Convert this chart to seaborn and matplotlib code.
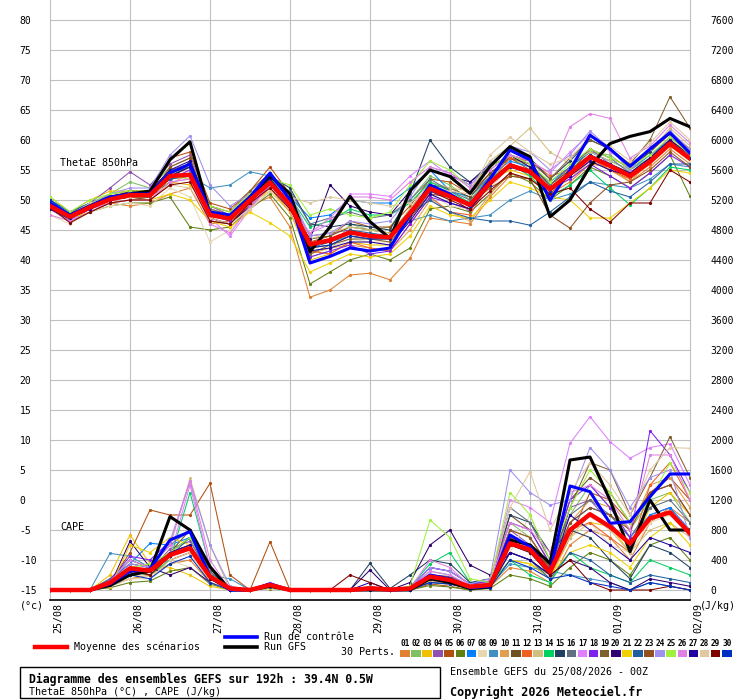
import matplotlib
matplotlib.use("Agg")
import matplotlib.pyplot as plt
import pandas as pd
import seaborn as sns
from matplotlib.transforms import ScaledTranslation
from matplotlib.lines import Line2D
from matplotlib.patches import Rectangle

# time axis: 0..192h every 6h
hours = list(range(0, 193, 6))
day_ticks = list(range(0, 193, 24))
day_labels = ["25/08", "26/08", "27/08", "28/08", "29/08", "30/08", "31/08", "01/09", "02/09"]

theta_ticks = list(range(-15, 81, 5))
cape_ticks = list(range(0, 7601, 400))

# ThetaE 850hPa (°C)
theta_mean = [49.0, 47.2, 48.8, 50.1, 50.8, 50.8, 54.0, 54.2, 47.5, 46.9, 50.0, 52.9, 49.2, 42.6, 43.3, 44.6, 44.0,
              43.8, 47.8, 51.9, 50.6, 49.2, 52.8, 55.8, 54.7, 51.8, 54.4, 57.2, 55.7, 54.0, 56.4, 59.4, 56.9]
theta_ctrl = [49.5, 47.5, 49.0, 50.5, 51.0, 51.0, 54.5, 56.0, 48.0, 47.5, 50.5, 54.5, 50.0, 39.5, 40.6, 42.0, 41.5,
              42.0, 47.5, 52.5, 51.0, 49.0, 53.5, 58.3, 56.7, 50.0, 55.0, 60.8, 58.5, 55.6, 58.5, 61.2, 57.8]
theta_gfs = [49.0, 47.5, 49.0, 50.5, 51.0, 51.5, 56.7, 59.7, 47.5, 47.0, 50.5, 54.0, 51.0, 41.4, 45.5, 50.6, 46.4,
             43.6, 51.5, 55.0, 53.9, 51.1, 55.6, 58.9, 57.2, 47.2, 50.0, 55.6, 59.4, 60.6, 61.4, 63.6, 62.2]

theta_p01 = [49.5, 47.5, 48.5, 49.5, 49.0, 49.5, 51.0, 52.0, 46.0, 46.5, 49.0, 50.5, 45.5, 33.8, 35.0, 37.5, 37.8, 36.7, 40.3, 47.0, 46.5, 46.0, 50.5, 54.0, 53.5, 51.0, 53.0, 56.0, 55.5, 53.0, 55.5, 58.5, 56.0]
theta_p02 = [49.8, 47.8, 49.5, 51.0, 53.0, 52.0, 55.5, 57.0, 48.0, 47.5, 51.0, 53.5, 49.5, 40.5, 41.5, 46.0, 45.0, 45.5, 50.0, 54.0, 52.5, 50.0, 54.0, 57.0, 55.5, 52.5, 55.0, 58.0, 57.5, 55.0, 57.0, 60.0, 57.5]
theta_p03 = [50.5, 48.0, 50.0, 51.5, 51.5, 51.0, 53.0, 52.5, 48.5, 47.5, 49.5, 51.5, 48.0, 40.0, 41.0, 43.0, 42.5, 42.5, 47.0, 52.0, 50.0, 49.5, 53.0, 55.0, 54.0, 52.0, 54.0, 56.5, 55.0, 53.5, 56.0, 59.0, 56.5]
theta_p04 = [49.5, 47.0, 49.5, 52.0, 54.7, 52.5, 56.0, 57.5, 49.0, 47.5, 51.0, 54.0, 50.0, 44.0, 44.5, 45.0, 44.0, 44.0, 48.5, 52.5, 51.0, 48.0, 53.5, 57.5, 56.0, 52.5, 55.5, 58.5, 56.0, 53.5, 57.0, 60.5, 58.0]
theta_p05 = [49.0, 47.5, 49.0, 50.5, 51.5, 51.5, 57.0, 58.0, 49.5, 48.5, 51.5, 55.5, 51.0, 43.0, 44.0, 46.5, 45.5, 45.5, 49.0, 53.5, 53.0, 51.0, 54.5, 57.0, 55.0, 51.0, 54.5, 58.5, 57.0, 55.5, 58.0, 61.0, 58.5]
theta_p06 = [48.5, 46.5, 48.0, 49.0, 49.5, 49.5, 50.5, 45.5, 45.0, 45.5, 48.5, 51.0, 47.0, 36.0, 38.0, 40.0, 41.0, 40.0, 42.0, 48.5, 49.0, 48.0, 51.0, 54.5, 53.0, 50.0, 52.5, 55.5, 54.0, 52.0, 54.5, 57.5, 50.6]
theta_p07 = [50.0, 48.0, 49.5, 50.5, 51.0, 51.5, 54.5, 55.5, 48.0, 47.0, 50.5, 53.5, 50.5, 47.0, 47.5, 50.0, 49.5, 49.5, 52.0, 55.0, 51.5, 50.5, 54.0, 56.5, 55.5, 53.0, 55.5, 58.0, 56.5, 55.0, 57.5, 60.0, 57.0]
theta_p08 = [47.5, 46.0, 48.0, 49.0, 49.5, 49.0, 52.0, 50.5, 43.0, 45.0, 48.5, 51.5, 48.5, 41.5, 42.0, 43.5, 43.0, 43.0, 47.0, 51.0, 49.0, 48.5, 52.0, 55.5, 54.5, 52.0, 54.0, 57.0, 55.5, 53.5, 56.0, 59.0, 56.5]
theta_p09 = [49.0, 47.5, 49.0, 50.0, 50.5, 51.0, 53.5, 54.0, 52.0, 52.5, 54.7, 54.0, 50.0, 42.5, 43.0, 44.0, 43.5, 44.0, 46.5, 47.5, 46.5, 47.0, 47.5, 50.0, 51.5, 50.0, 51.0, 53.0, 52.5, 52.0, 53.5, 56.0, 55.5]
theta_p10 = [50.5, 48.0, 49.0, 50.0, 50.5, 50.0, 52.5, 54.5, 47.0, 46.0, 49.0, 52.0, 48.0, 41.0, 42.0, 42.5, 42.0, 41.5, 45.0, 50.0, 48.0, 46.5, 51.0, 54.5, 53.5, 51.5, 53.5, 56.5, 55.0, 53.0, 56.5, 59.5, 57.5]
theta_p11 = [48.5, 46.5, 48.0, 49.5, 50.0, 50.5, 53.0, 56.5, 46.5, 46.0, 49.5, 53.0, 49.0, 43.5, 44.0, 45.5, 45.0, 44.5, 48.0, 52.5, 52.0, 50.5, 54.5, 57.0, 56.0, 52.5, 55.0, 57.5, 56.0, 54.5, 57.0, 60.0, 57.0]
theta_p12 = [49.5, 47.0, 48.5, 50.0, 51.0, 50.5, 53.5, 54.0, 48.5, 47.5, 50.0, 52.5, 49.0, 41.5, 41.0, 43.0, 42.0, 41.5, 46.0, 50.5, 48.0, 47.5, 53.0, 57.0, 56.5, 54.0, 55.0, 57.0, 55.0, 53.5, 56.0, 59.0, 57.0]
theta_p13 = [50.0, 47.5, 49.0, 50.5, 51.0, 51.0, 54.5, 55.0, 48.0, 47.0, 50.5, 53.0, 49.5, 43.5, 44.5, 45.5, 45.0, 44.5, 48.5, 53.0, 52.0, 51.5, 56.5, 59.0, 62.0, 58.0, 56.0, 58.0, 56.5, 55.0, 58.0, 62.0, 59.0]
theta_p14 = [49.5, 47.5, 49.0, 50.0, 50.5, 50.5, 53.5, 54.5, 47.5, 47.0, 50.5, 53.5, 50.5, 45.5, 46.5, 48.5, 47.5, 47.5, 49.5, 53.0, 51.5, 49.5, 53.5, 56.0, 54.0, 50.5, 52.5, 55.0, 52.0, 49.2, 52.0, 55.5, 55.0]
theta_p15 = [49.0, 47.0, 48.5, 50.0, 50.5, 51.0, 54.0, 55.5, 47.5, 46.5, 50.0, 54.0, 52.0, 46.0, 45.5, 46.0, 45.5, 45.0, 51.0, 60.0, 55.5, 53.0, 56.0, 58.5, 57.0, 53.5, 56.5, 60.0, 58.5, 55.5, 58.0, 61.5, 58.0]
theta_p16 = [49.5, 47.5, 49.0, 50.5, 51.0, 51.0, 55.0, 55.5, 48.5, 47.5, 50.5, 53.0, 51.5, 46.0, 47.0, 48.0, 47.0, 47.5, 50.0, 53.5, 51.5, 50.0, 53.0, 56.0, 55.0, 52.5, 55.5, 58.5, 57.0, 54.5, 57.0, 60.0, 57.5]
theta_p17 = [48.5, 46.5, 48.5, 49.5, 50.0, 50.0, 53.0, 53.5, 47.0, 44.0, 48.5, 52.5, 49.0, 44.5, 46.0, 51.0, 51.0, 50.6, 54.0, 56.5, 54.0, 52.5, 55.0, 57.5, 56.5, 54.5, 58.0, 61.0, 58.0, 56.0, 58.5, 61.5, 58.0]
theta_p18 = [49.0, 47.0, 48.5, 50.0, 51.0, 51.5, 53.5, 55.0, 47.5, 46.5, 50.0, 53.5, 49.5, 40.5, 41.5, 42.5, 41.0, 41.5, 46.0, 50.5, 49.5, 48.5, 52.5, 56.0, 55.0, 52.0, 53.5, 56.0, 54.0, 52.0, 54.5, 57.5, 55.5]
theta_p19 = [49.5, 47.5, 49.0, 51.0, 51.5, 51.5, 55.0, 56.0, 49.0, 48.0, 51.5, 54.5, 50.0, 41.0, 42.5, 43.5, 43.5, 43.0, 47.0, 51.5, 51.0, 49.5, 54.0, 57.5, 56.5, 53.5, 57.0, 60.0, 58.5, 56.0, 60.0, 67.2, 62.0]
theta_p20 = [48.5, 46.8, 48.5, 50.0, 51.5, 51.0, 54.0, 55.5, 47.0, 46.0, 49.0, 52.5, 48.5, 43.5, 52.5, 49.0, 48.0, 47.5, 51.5, 55.0, 54.0, 53.0, 55.5, 57.5, 55.5, 51.5, 54.0, 57.5, 56.0, 54.5, 57.0, 60.0, 57.5]
theta_p21 = [49.0, 47.0, 48.0, 49.5, 50.0, 50.0, 51.0, 50.0, 46.5, 45.5, 48.0, 46.2, 44.0, 38.0, 39.5, 41.0, 40.5, 41.0, 44.0, 49.0, 47.5, 47.0, 50.0, 53.0, 52.0, 50.5, 50.0, 47.0, 47.0, 49.5, 52.0, 55.0, 54.5]
theta_p22 = [50.0, 48.0, 49.5, 50.5, 51.0, 51.0, 53.5, 54.0, 47.5, 47.0, 50.0, 52.5, 49.0, 42.0, 43.0, 45.0, 44.5, 44.0, 47.5, 50.0, 48.0, 47.0, 46.5, 46.5, 45.8, 48.0, 50.5, 53.0, 51.5, 50.5, 53.0, 56.0, 56.0]
theta_p23 = [49.0, 47.0, 48.5, 50.0, 50.5, 50.5, 55.5, 57.0, 48.0, 47.0, 50.0, 53.0, 49.0, 42.0, 42.5, 44.0, 43.5, 43.5, 47.0, 51.0, 50.5, 49.5, 52.0, 54.0, 53.5, 47.5, 45.3, 49.5, 52.5, 53.0, 55.0, 58.0, 55.5]
theta_p24 = [49.5, 47.0, 49.0, 51.0, 52.0, 52.0, 57.5, 60.7, 52.5, 49.0, 51.0, 54.5, 51.0, 44.0, 44.5, 46.5, 46.0, 46.5, 50.5, 55.5, 54.5, 52.5, 56.0, 59.0, 58.0, 55.0, 57.5, 61.5, 58.5, 55.0, 58.5, 61.5, 58.5]
theta_p25 = [50.5, 48.0, 50.0, 51.0, 51.5, 51.5, 54.0, 53.5, 49.0, 48.0, 51.0, 53.5, 52.5, 47.5, 48.5, 47.5, 47.0, 48.0, 52.5, 56.5, 55.0, 52.0, 55.5, 57.5, 56.0, 53.0, 56.0, 58.5, 57.0, 55.5, 57.5, 60.5, 57.5]
theta_p26 = [47.5, 46.5, 48.0, 49.5, 50.0, 50.0, 53.0, 53.5, 46.0, 44.5, 49.0, 52.5, 48.5, 44.5, 47.0, 50.5, 50.5, 50.0, 53.0, 55.5, 54.5, 52.0, 55.0, 57.5, 56.5, 54.5, 62.2, 64.4, 63.6, 57.0, 59.0, 62.5, 59.5]
theta_p27 = [49.0, 47.0, 48.5, 50.0, 51.0, 51.5, 55.0, 56.5, 48.0, 47.5, 50.5, 53.5, 49.5, 41.5, 42.0, 43.0, 43.0, 42.5, 46.5, 51.0, 49.5, 48.5, 52.5, 55.5, 54.5, 52.0, 54.0, 56.5, 55.0, 54.0, 56.5, 59.5, 57.0]
theta_p28 = [49.5, 47.5, 49.5, 50.5, 50.5, 51.0, 52.5, 52.0, 47.0, 46.0, 48.5, 51.5, 50.5, 49.5, 50.5, 50.0, 49.5, 49.0, 49.5, 52.0, 51.5, 51.0, 57.5, 60.5, 58.0, 56.0, 57.0, 60.5, 59.0, 56.5, 59.5, 63.0, 60.0]
theta_p29 = [48.8, 46.2, 48.0, 49.5, 50.0, 50.0, 52.5, 53.0, 46.5, 46.0, 49.5, 52.0, 48.5, 42.5, 43.0, 44.5, 44.0, 44.0, 47.5, 51.5, 50.0, 48.5, 51.5, 54.5, 53.5, 51.0, 52.0, 48.5, 46.3, 49.5, 49.5, 55.0, 53.0]
theta_p30 = [50.0, 47.5, 49.0, 50.5, 51.0, 51.5, 54.5, 56.0, 47.5, 47.0, 50.0, 53.0, 49.0, 42.0, 42.5, 44.0, 43.5, 43.5, 47.5, 51.5, 50.5, 49.0, 52.5, 55.5, 54.5, 51.5, 54.5, 57.5, 56.0, 54.0, 56.5, 59.5, 57.0]

# CAPE (J/kg)
cape_mean = [0, 0, 0, 97, 289, 258, 467, 556, 178, 20, 0, 67, 0, 0, 0, 0, 22,
             5, 20, 178, 133, 44, 67, 622, 540, 244, 800, 1010, 844, 620, 956, 1035, 756]
cape_ctrl = [0, 0, 0, 80, 250, 280, 667, 778, 178, 0, 0, 80, 0, 0, 0, 0, 20,
             0, 10, 200, 150, 30, 50, 733, 578, 244, 1387, 1311, 889, 911, 1244, 1547, 1547]
cape_gfs = [0, 0, 0, 60, 200, 250, 978, 800, 311, 0, 0, 50, 0, 0, 0, 0, 0,
            0, 0, 150, 100, 20, 40, 667, 600, 356, 1733, 1773, 1200, 511, 1200, 800, 800]

cape_p01 = [0, 0, 0, 50, 150, 200, 350, 400, 100, 0, 0, 30, 0, 0, 0, 0, 0, 0, 0, 100, 80, 20, 40, 300, 250, 100, 600, 800, 700, 400, 900, 1100, 900]
cape_p02 = [0, 0, 0, 120, 400, 300, 500, 700, 150, 0, 0, 80, 0, 0, 0, 0, 10, 0, 20, 250, 200, 50, 100, 900, 700, 300, 1000, 1400, 1100, 800, 1200, 1300, 900]
cape_p03 = [0, 0, 0, 200, 733, 350, 300, 200, 50, 0, 0, 40, 0, 0, 0, 0, 0, 0, 0, 150, 100, 0, 50, 400, 350, 150, 700, 900, 850, 500, 1100, 1300, 1000]
cape_p04 = [0, 0, 0, 80, 300, 250, 550, 650, 200, 0, 0, 60, 0, 0, 0, 0, 40, 0, 30, 300, 250, 80, 120, 800, 600, 250, 1100, 1200, 900, 600, 1000, 1100, 700]
cape_p05 = [0, 0, 0, 100, 500, 1067, 1000, 1000, 1422, 200, 0, 644, 0, 0, 0, 0, 0, 0, 0, 80, 50, 0, 30, 500, 400, 200, 700, 1300, 1200, 900, 1300, 1500, 1200]
cape_p06 = [0, 0, 0, 30, 100, 120, 250, 300, 80, 0, 0, 20, 0, 0, 0, 0, 0, 0, 0, 60, 40, 0, 20, 200, 150, 50, 300, 500, 400, 200, 600, 700, 400]
cape_p07 = [0, 0, 0, 150, 350, 622, 600, 700, 250, 0, 0, 90, 0, 0, 0, 0, 20, 0, 10, 200, 150, 40, 60, 600, 500, 200, 900, 1100, 1000, 700, 1000, 1100, 800]
cape_p08 = [0, 0, 0, 60, 200, 180, 400, 300, 100, 0, 0, 30, 0, 0, 0, 0, 0, 0, 0, 100, 70, 20, 30, 500, 1000, 300, 700, 900, 600, 500, 900, 1000, 800]
cape_p09 = [0, 0, 0, 489, 450, 300, 400, 500, 200, 150, 0, 50, 0, 0, 0, 0, 30, 0, 50, 150, 100, 30, 50, 350, 300, 250, 200, 150, 100, 0, 100, 50, 0]
cape_p10 = [0, 0, 0, 100, 250, 200, 450, 600, 150, 0, 0, 60, 0, 0, 0, 0, 0, 0, 0, 150, 120, 30, 60, 700, 600, 250, 900, 1200, 1100, 800, 1400, 1500, 1100]
cape_p11 = [0, 0, 0, 50, 200, 250, 500, 800, 250, 0, 0, 80, 0, 0, 0, 0, 10, 0, 20, 200, 180, 60, 80, 1000, 800, 350, 1200, 1500, 1300, 900, 1300, 1400, 1000]
cape_p12 = [0, 0, 0, 80, 300, 200, 400, 500, 150, 0, 0, 40, 0, 0, 0, 0, 0, 0, 0, 150, 100, 20, 40, 800, 700, 300, 800, 900, 700, 500, 1400, 1700, 1200]
cape_p13 = [0, 0, 0, 100, 300, 350, 600, 1489, 600, 0, 0, 70, 0, 0, 0, 0, 0, 0, 0, 120, 90, 20, 50, 600, 500, 200, 700, 1000, 800, 500, 800, 900, 700]
cape_p14 = [0, 0, 0, 90, 250, 200, 400, 1300, 300, 0, 0, 50, 0, 0, 0, 0, 20, 0, 40, 350, 500, 100, 80, 400, 200, 100, 500, 300, 200, 100, 400, 300, 200]
cape_p15 = [0, 0, 0, 120, 350, 300, 500, 700, 200, 0, 0, 90, 0, 0, 0, 0, 356, 20, 200, 400, 350, 100, 150, 1000, 900, 500, 800, 700, 400, 150, 600, 500, 300]
cape_p16 = [0, 0, 0, 150, 400, 300, 600, 800, 250, 0, 0, 80, 0, 0, 0, 0, 50, 10, 30, 300, 250, 80, 100, 1100, 900, 400, 1000, 1200, 1000, 700, 1100, 1200, 900]
cape_p17 = [0, 0, 0, 100, 300, 250, 450, 1400, 300, 0, 0, 70, 0, 0, 0, 0, 40, 0, 30, 250, 200, 60, 100, 1200, 1100, 900, 1956, 2311, 1978, 1756, 1900, 1950, 1400]
cape_p18 = [0, 0, 0, 130, 450, 400, 650, 800, 200, 0, 0, 100, 0, 0, 0, 0, 30, 0, 20, 300, 250, 80, 120, 900, 800, 350, 1200, 1400, 1100, 700, 2124, 1800, 1300]
cape_p19 = [0, 0, 0, 80, 250, 300, 500, 600, 200, 0, 0, 60, 0, 0, 0, 0, 0, 0, 0, 200, 150, 40, 80, 800, 700, 300, 1100, 1700, 1600, 1000, 1500, 2044, 1500]
cape_p20 = [0, 0, 0, 60, 650, 300, 200, 300, 100, 0, 0, 40, 0, 0, 0, 0, 267, 0, 100, 600, 800, 333, 200, 500, 400, 200, 400, 300, 100, 0, 150, 100, 50]
cape_p21 = [0, 0, 0, 40, 600, 500, 700, 600, 100, 0, 0, 30, 0, 0, 0, 0, 0, 0, 0, 150, 100, 30, 40, 400, 350, 200, 500, 600, 500, 300, 700, 900, 600]
cape_p22 = [0, 0, 0, 70, 200, 250, 450, 700, 200, 0, 0, 50, 0, 0, 0, 0, 20, 0, 10, 100, 80, 20, 50, 500, 400, 150, 500, 400, 200, 100, 200, 150, 100]
cape_p23 = [0, 0, 0, 90, 300, 250, 500, 600, 150, 0, 0, 60, 0, 0, 0, 0, 0, 0, 0, 200, 150, 40, 60, 700, 600, 300, 900, 1100, 1000, 800, 1300, 1400, 1000]
cape_p24 = [0, 0, 0, 110, 350, 300, 650, 1450, 600, 50, 0, 90, 0, 0, 0, 0, 30, 0, 30, 300, 250, 80, 150, 1600, 1300, 1133, 1200, 1900, 1600, 1100, 1500, 1600, 700]
cape_p25 = [0, 0, 0, 100, 300, 350, 500, 700, 200, 0, 0, 80, 0, 0, 0, 0, 40, 0, 50, 933, 700, 150, 100, 1300, 1000, 400, 1100, 1600, 1300, 900, 1200, 1700, 1300]
cape_p26 = [0, 0, 0, 120, 400, 300, 600, 1450, 400, 0, 0, 70, 0, 0, 0, 0, 20, 0, 20, 400, 300, 60, 80, 900, 800, 500, 1300, 1400, 1200, 800, 1800, 1800, 1200]
cape_p27 = [0, 0, 0, 90, 300, 250, 500, 600, 150, 0, 0, 60, 0, 0, 0, 0, 100, 0, 20, 150, 100, 30, 40, 500, 400, 200, 1000, 800, 600, 400, 700, 600, 500]
cape_p28 = [0, 0, 0, 50, 150, 150, 400, 500, 100, 0, 0, 40, 0, 0, 0, 0, 0, 0, 0, 200, 150, 50, 80, 1100, 1578, 800, 1300, 1700, 1400, 1000, 1600, 1900, 1889]
cape_p29 = [0, 0, 0, 70, 250, 200, 450, 550, 150, 0, 0, 50, 0, 0, 0, 200, 100, 0, 0, 150, 100, 30, 50, 600, 500, 200, 400, 100, 0, 0, 0, 50, 0]
cape_p30 = [0, 0, 0, 80, 200, 150, 350, 450, 100, 0, 0, 40, 0, 0, 0, 0, 0, 0, 0, 100, 80, 20, 30, 400, 300, 150, 200, 100, 50, 0, 100, 50, 0]

pert_names = ["%02d" % k for k in range(1, 31)]
pert_colors = ["#e08030", "#80c060", "#f0c000", "#9050b0", "#b05010", "#608010", "#0080ff", "#e8d8b0",
               "#4090c0", "#e0a050", "#705020", "#f06020", "#d0c080", "#00d060", "#204060", "#607080",
               "#e080ff", "#8020f0", "#806030", "#300070", "#f0d000", "#2060a0", "#905020", "#a090f0",
               "#a0f040", "#e080e0", "#2000a0", "#e0c8a0", "#800000", "#0030c0"]

theta_perts = [theta_p01, theta_p02, theta_p03, theta_p04, theta_p05, theta_p06, theta_p07, theta_p08,
               theta_p09, theta_p10, theta_p11, theta_p12, theta_p13, theta_p14, theta_p15, theta_p16,
               theta_p17, theta_p18, theta_p19, theta_p20, theta_p21, theta_p22, theta_p23, theta_p24,
               theta_p25, theta_p26, theta_p27, theta_p28, theta_p29, theta_p30]
cape_perts = [cape_p01, cape_p02, cape_p03, cape_p04, cape_p05, cape_p06, cape_p07, cape_p08,
              cape_p09, cape_p10, cape_p11, cape_p12, cape_p13, cape_p14, cape_p15, cape_p16,
              cape_p17, cape_p18, cape_p19, cape_p20, cape_p21, cape_p22, cape_p23, cape_p24,
              cape_p25, cape_p26, cape_p27, cape_p28, cape_p29, cape_p30]

frames = []
for name, t, c in zip(pert_names, theta_perts, cape_perts):
    frames.append(pd.DataFrame({"hour": hours, "member": name, "theta": t, "cape": c}))
df = pd.concat(frames, ignore_index=True)

W, H = 740, 700
MONO = "DejaVu Sans Mono"
plt.rcParams["font.family"] = [MONO, "DejaVu Sans"]


def fx(x):
    return x / W


def fy(y):
    return 1 - y / H


fig = plt.figure(figsize=(W / 100, H / 100), dpi=100)
fig.patch.set_facecolor("white")

# plot area: x 50..690 px, y 0..600 px ; -15 at y=590, 80 at y=20 (6 px per degree)
ax = fig.add_axes([fx(50), fy(600), 640 / W, 600 / H])
ax.set_xlim(0, 192)
ax.set_ylim(-15 - 10 / 6, 80 + 20 / 6)
ax2 = ax.twinx()
ax2.set_ylim((-10 / 6) * 80, (95 + 20 / 6) * 80)

ax.set_xticks(day_ticks)
ax.set_xticklabels(day_labels, rotation=90, fontsize=7.2, ha="left", va="top")
ax.set_yticks(theta_ticks)
ax.set_yticklabels([str(v) for v in theta_ticks], fontsize=7, ha="left")
ax2.set_yticks(cape_ticks)
ax2.set_yticklabels([str(v) for v in cape_ticks], fontsize=7)
ax.tick_params(axis="x", length=0, pad=2)
ax.tick_params(axis="y", length=0, pad=22)
ax2.tick_params(axis="y", length=0, pad=14.5)
for lab in ax.get_xticklabels():
    lab.set_transform(lab.get_transform() + ScaledTranslation(3 / 100, 0, fig.dpi_scale_trans))

ax.grid(True, color="#c0c0c0", linewidth=0.8)
for gl in ax.get_xgridlines() + ax.get_ygridlines():
    gl.set_clip_on(False)
ax.set_axisbelow(True)
for s in ["top", "left", "right"]:
    ax.spines[s].set_visible(False)
    ax2.spines[s].set_visible(False)
ax2.spines["bottom"].set_visible(False)
ax.spines["bottom"].set_color("black")
ax.spines["bottom"].set_linewidth(1.2)

# members
sns.lineplot(data=df, x="hour", y="theta", hue="member", hue_order=pert_names, palette=pert_colors,
             ax=ax, legend=False, linewidth=0.75, marker="o", markersize=2.3, markeredgewidth=0,
             estimator=None, sort=False)
sns.lineplot(data=df, x="hour", y="cape", hue="member", hue_order=pert_names, palette=pert_colors,
             ax=ax2, legend=False, linewidth=0.75, marker="o", markersize=2.3, markeredgewidth=0,
             estimator=None, sort=False)

# GFS, control, mean
sns.lineplot(x=hours, y=theta_gfs, color="black", linewidth=2.2, ax=ax)
sns.lineplot(x=hours, y=theta_ctrl, color="#0000ff", linewidth=2.2, ax=ax)
sns.lineplot(x=hours, y=theta_mean, color="#ff0000", linewidth=3.2, ax=ax)
sns.lineplot(x=hours, y=cape_gfs, color="black", linewidth=2.2, ax=ax2)
sns.lineplot(x=hours, y=cape_ctrl, color="#0000ff", linewidth=2.2, ax=ax2)
sns.lineplot(x=hours, y=cape_mean, color="#ff0000", linewidth=3.2, ax=ax2)

for a in (ax, ax2):
    a.set_xlabel("")
    a.set_ylabel("")
ax.set_xlim(0, 192)

# in-plot labels
fig.text(fx(60), fy(163), "ThetaE 850hPa", fontsize=7.2, ha="left", va="center")
fig.text(fx(60), fy(527), "CAPE", fontsize=7.2, ha="left", va="center")
fig.text(fx(20), fy(606), "(°c)", fontsize=7.2, ha="left", va="center")
fig.text(fx(700), fy(606), "(J/kg)", fontsize=7.2, ha="left", va="center")

# legend
fig.add_artist(Line2D([fx(35), fx(67)], [fy(647), fy(647)], color="#ff0000", linewidth=3.2))
fig.text(fx(74), fy(647), "Moyenne des scénarios", fontsize=7.2, ha="left", va="center")
fig.add_artist(Line2D([fx(225), fx(257)], [fy(637), fy(637)], color="#0000ff", linewidth=2.6))
fig.text(fx(264), fy(637), "Run de contrôle", fontsize=7.2, ha="left", va="center")
fig.add_artist(Line2D([fx(225), fx(257)], [fy(647), fy(647)], color="black", linewidth=2.6))
fig.text(fx(264), fy(647), "Run GFS", fontsize=7.2, ha="left", va="center")
fig.text(fx(341), fy(652), "30 Perts.", fontsize=7.2, ha="left", va="center")
for k, (name, col) in enumerate(zip(pert_names, pert_colors)):
    x0 = 400 + k * 11.1
    fig.add_artist(Rectangle((fx(x0), fy(656.5)), 9.6 / W, 6.5 / H, transform=fig.transFigure,
                             facecolor=col, edgecolor="none"))
    fig.text(fx(x0 + 4.8), fy(643), name, fontsize=5.6, fontweight="bold", ha="center", va="center")

# title box
fig.add_artist(Rectangle((fx(20), fy(698)), 420 / W, 31 / H, transform=fig.transFigure,
                         facecolor="none", edgecolor="black", linewidth=1))
fig.text(fx(29), fy(679), "Diagramme des ensembles GEFS sur 192h : 39.4N 0.5W", fontsize=8.3,
         fontweight="bold", ha="left", va="center")
fig.text(fx(29), fy(692), "ThetaE 850hPa (°C) , CAPE (J/kg)", fontsize=7.2, ha="left", va="center")
fig.text(fx(450), fy(672), "Ensemble GEFS du 25/08/2026 - 00Z", fontsize=7.2, ha="left", va="center")
fig.text(fx(450), fy(692), "Copyright 2026 Meteociel.fr", fontsize=8.5, fontweight="bold",
         ha="left", va="center")

fig.savefig("out.png", dpi=100, facecolor="white")
